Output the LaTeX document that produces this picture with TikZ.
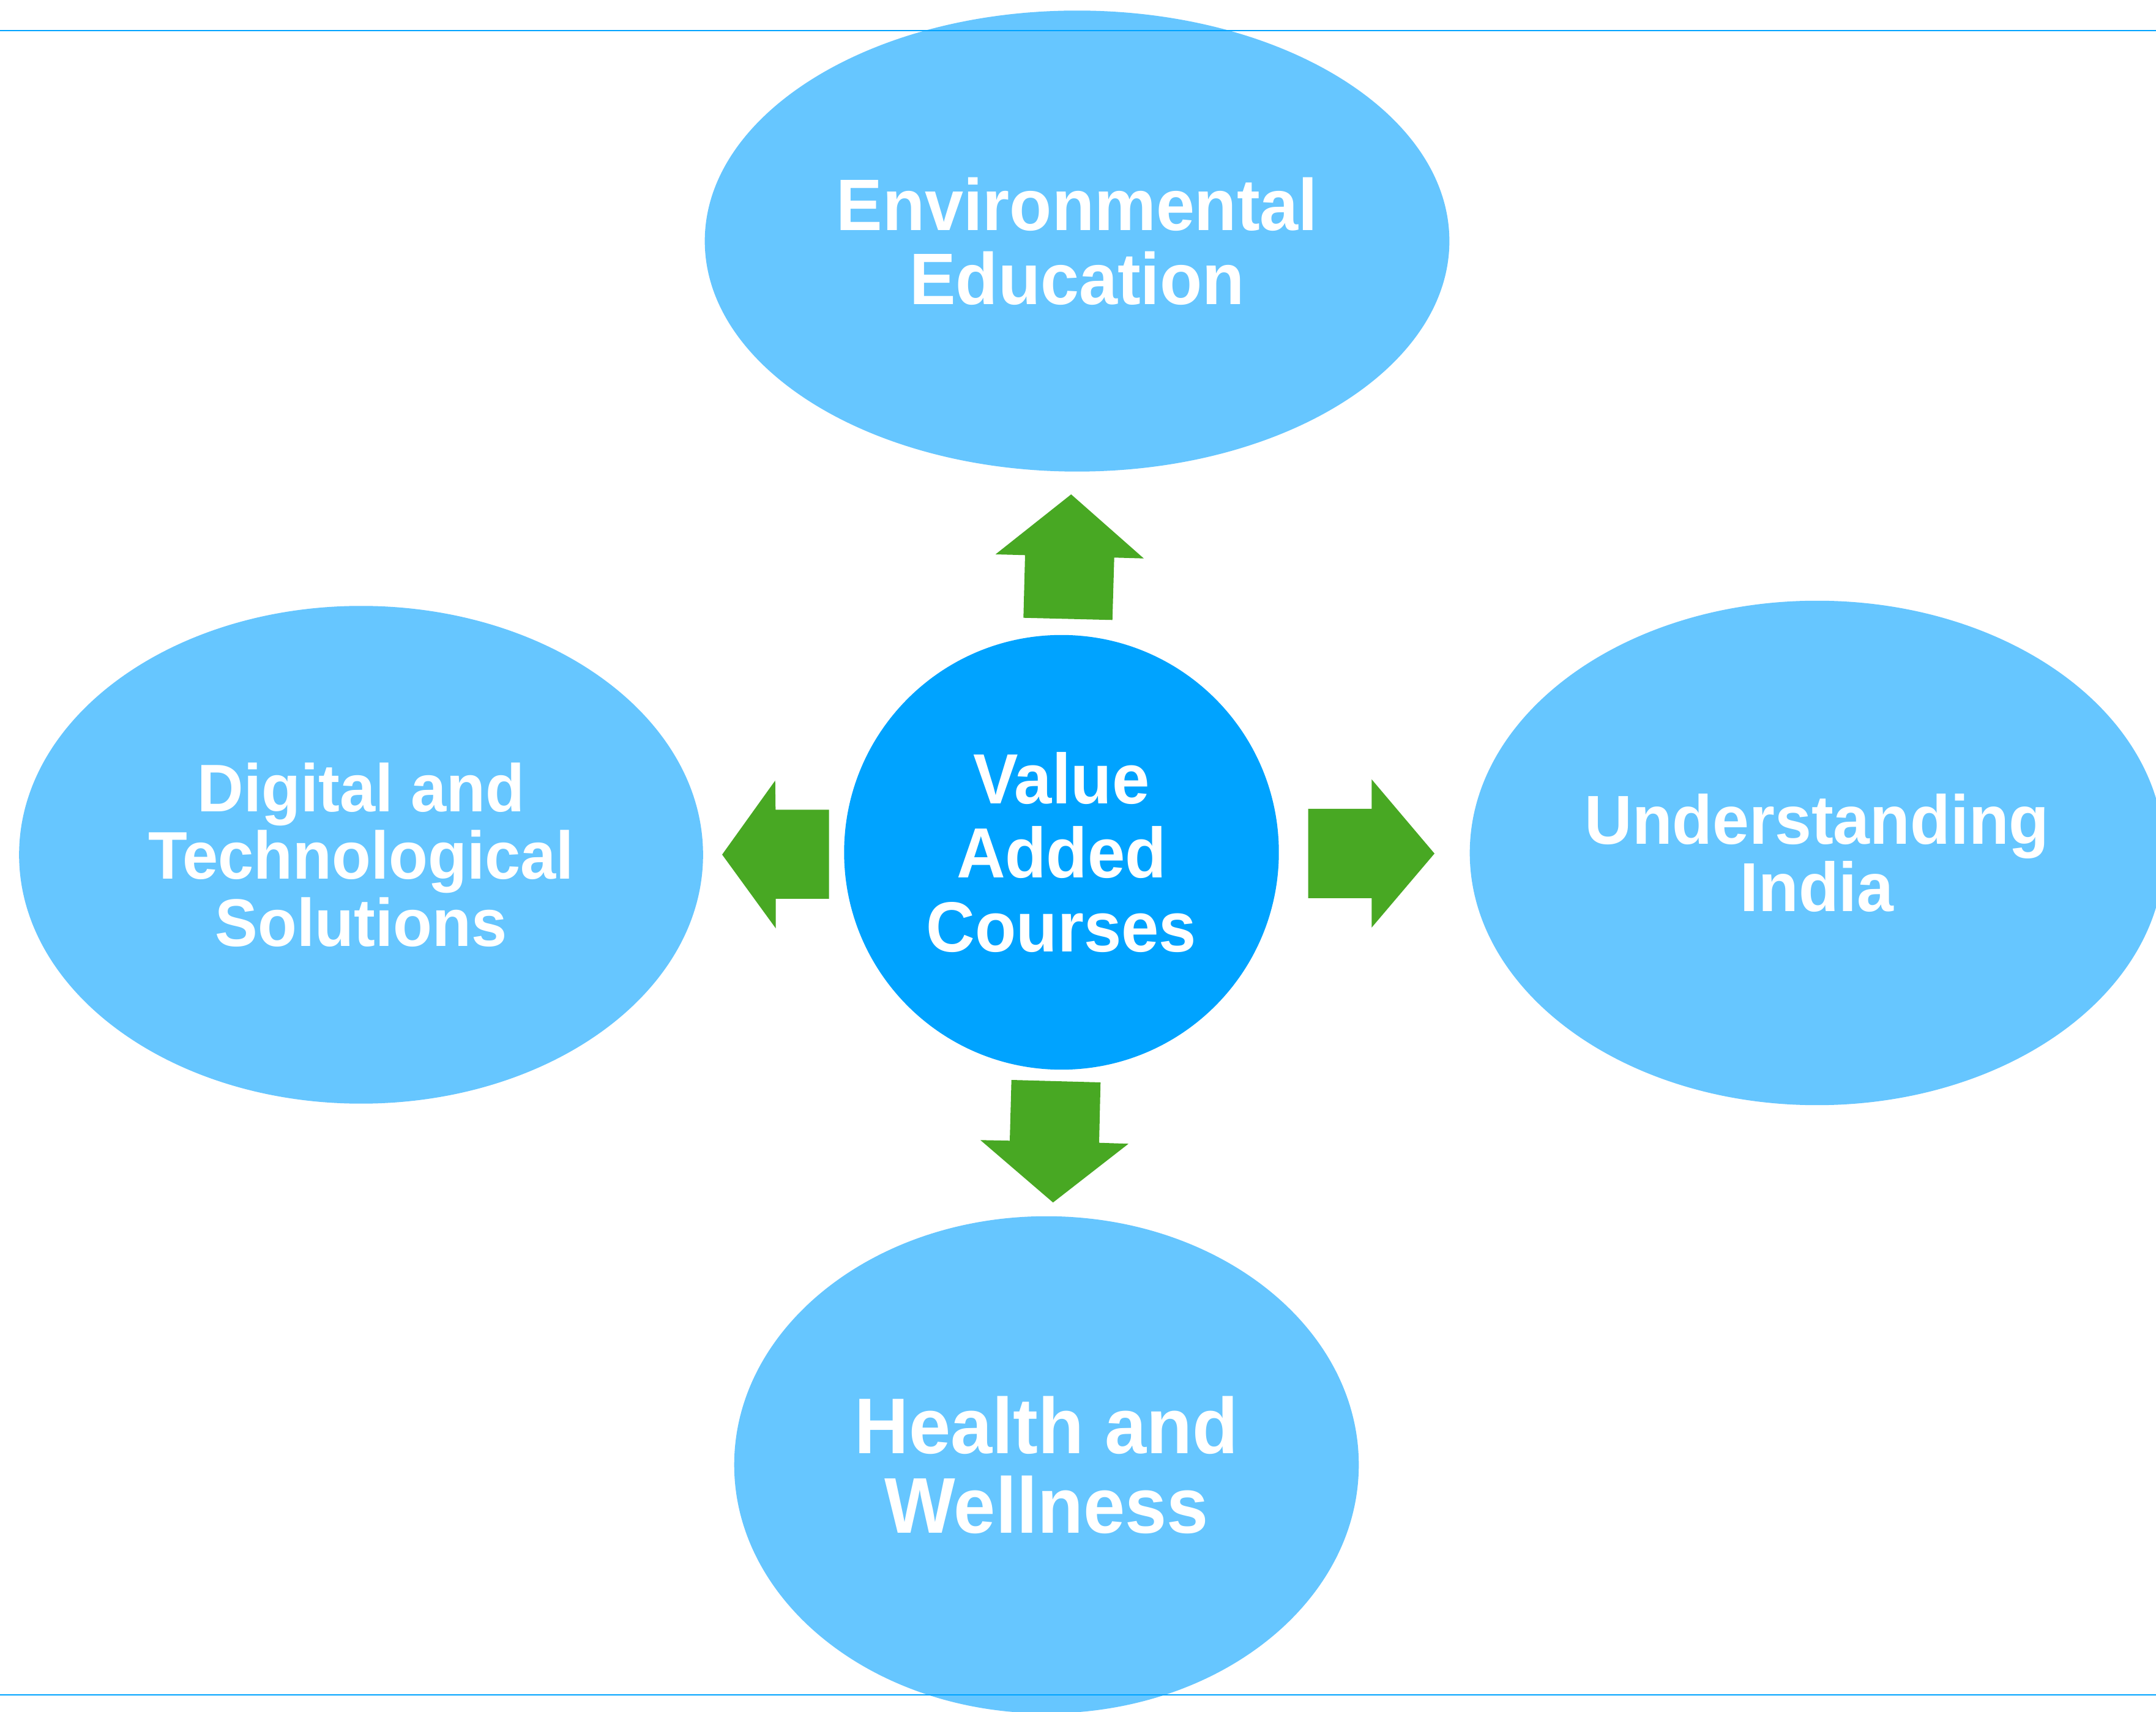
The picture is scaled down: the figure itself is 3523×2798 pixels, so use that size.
\documentclass[tikz,border=0pt]{standalone}
\usepackage{fontspec}
\setmainfont{Liberation Sans}[FakeStretch=0.95]
\usetikzlibrary{shapes.geometric}
\definecolor{elfill}{HTML}{66C6FF}
\definecolor{hubfill}{HTML}{00A3FF}
\definecolor{rulecol}{HTML}{00A3FF}
\definecolor{arrowgreen}{HTML}{48A823}
\tikzset{
  topic/.style={ellipse, fill=elfill, draw=none, inner sep=0pt, align=center, text=white},
  hub/.style={circle, fill=hubfill, draw=none, inner sep=0pt, align=center, text=white},
  blockarrow/.style={fill=arrowgreen, draw=none},
  rule/.style={draw=rulecol, line width=0.6pt}
}
\begin{document}
\begin{tikzpicture}[x=0.01cm, y=-0.01cm]
\clip (0,0) rectangle (3523,2798);
\fill[white] (0,0) rectangle (3523,2798);

% outer topics
\node[topic, minimum width=12.16cm, minimum height=7.53cm,
  font=\bfseries\fontsize{33.9pt}{34.4pt}\selectfont] (env) at (1760,394)
  {Environmental\\Education};
\node[topic, minimum width=11.17cm, minimum height=8.13cm,
  font=\bfseries\fontsize{31.3pt}{31.3pt}\selectfont] (dig) at (590,1397)
  {Digital and\\Technological\\Solutions};
\node[topic, minimum width=11.34cm, minimum height=8.24cm,
  font=\bfseries\fontsize{32.2pt}{31.3pt}\selectfont] (ind) at (2969,1394)
  {Understanding\\India};
\node[topic, minimum width=10.20cm, minimum height=8.12cm,
  font=\bfseries\fontsize{36.7pt}{37pt}\selectfont] (hw) at (1710,2394)
  {Health and\\Wellness};

% hub
\node[hub, minimum size=7.10cm,
  font=\bfseries\fontsize{33pt}{34.4pt}\selectfont] (vac) at (1734.5,1393)
  {Value\\Added\\Courses};

% block arrows
\fill[blockarrow] (1750.3,808) -- (1869,912.7) -- (1820.7,911.3) -- (1817.7,1013.3)
  -- (1672.3,1009.7) -- (1675,907.3) -- (1626.7,906) -- cycle;
\fill[blockarrow] (1180,1396.7) -- (1266.7,1275.7) -- (1267.3,1323.3) -- (1354.7,1323.3)
  -- (1354.7,1469) -- (1267.7,1469) -- (1267.7,1517.3) -- cycle;
\fill[blockarrow] (2344,1395) -- (2241.3,1273.7) -- (2241.3,1322) -- (2137.7,1322)
  -- (2137.7,1468) -- (2241.3,1468) -- (2241.3,1516) -- cycle;
\fill[blockarrow] (1720.7,1965.3) -- (1844,1869.3) -- (1796,1867.7) -- (1798.3,1769)
  -- (1652.7,1765) -- (1650,1864.3) -- (1602,1863.3) -- cycle;

% horizontal rules
\coordinate (rtl) at (0,50);
\coordinate (rtr) at (3523,50);
\coordinate (rbl) at (0,2770);
\coordinate (rbr) at (3523,2770);
\draw[rule] (rtl) -- (rtr);
\draw[rule] (rbl) -- (rbr);
\end{tikzpicture}
\end{document}
